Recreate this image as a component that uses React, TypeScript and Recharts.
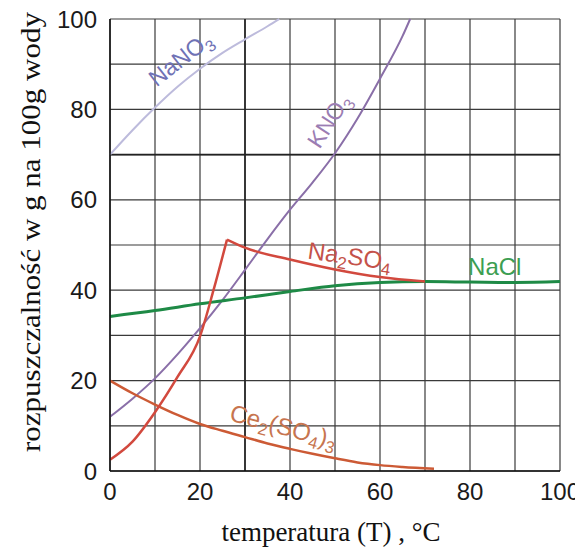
import React from 'react';
import { LineChart, Line, XAxis, YAxis, CartesianGrid, ReferenceLine, ReferenceDot, Label } from 'recharts';

type Pt = { t: number; v: number };

const xTicks = [0, 10, 20, 30, 40, 50, 60, 70, 80, 90, 100];
const yTicks = [0, 10, 20, 30, 40, 50, 60, 70, 80, 90, 100];
const labeledTicks = [0, 20, 40, 60, 80, 100];

const nano3: Pt[] = [
  { t: 0, v: 70 }, { t: 5, v: 75.4 }, { t: 10, v: 80.4 }, { t: 15, v: 85 },
  { t: 20, v: 89 }, { t: 25, v: 92.5 }, { t: 30, v: 95.5 }, { t: 35, v: 98.4 }, { t: 37.6, v: 100 },
];
const kno3: Pt[] = [
  { t: 0, v: 12 }, { t: 5, v: 16 }, { t: 10, v: 20.5 }, { t: 15, v: 25.8 }, { t: 20, v: 31.6 },
  { t: 25, v: 37.8 }, { t: 30, v: 44.5 }, { t: 35, v: 51.3 }, { t: 40, v: 57.8 }, { t: 45, v: 63.8 },
  { t: 50, v: 70.3 }, { t: 55, v: 78 }, { t: 60, v: 86.8 }, { t: 65, v: 96.2 }, { t: 66.7, v: 100 },
];
const na2so4Rise: Pt[] = [
  { t: 0, v: 2.5 }, { t: 5, v: 6.5 }, { t: 10, v: 13 }, { t: 15, v: 20.8 }, { t: 20, v: 29.8 },
  { t: 23, v: 40 }, { t: 26, v: 51.2 },
];
const na2so4Fall: Pt[] = [
  { t: 26, v: 51.2 }, { t: 30, v: 49.4 }, { t: 40, v: 46.8 }, { t: 50, v: 44.6 },
  { t: 60, v: 42.9 }, { t: 70, v: 41.9 },
];
const nacl: Pt[] = [
  { t: 0, v: 34.2 }, { t: 10, v: 35.5 }, { t: 20, v: 37 }, { t: 30, v: 38.3 }, { t: 40, v: 39.7 },
  { t: 50, v: 41 }, { t: 60, v: 41.7 }, { t: 70, v: 41.9 }, { t: 80, v: 41.8 }, { t: 90, v: 41.7 }, { t: 100, v: 41.9 },
];
const ce2so43: Pt[] = [
  { t: 0, v: 20 }, { t: 5, v: 17.2 }, { t: 10, v: 14.7 }, { t: 15, v: 12.4 }, { t: 20, v: 10.4 },
  { t: 25, v: 8.9 }, { t: 30, v: 7.5 }, { t: 35, v: 6.1 }, { t: 40, v: 4.9 }, { t: 45, v: 3.8 },
  { t: 50, v: 2.8 }, { t: 55, v: 1.9 }, { t: 60, v: 1.3 }, { t: 65, v: 0.9 }, { t: 72, v: 0.5 },
];

const xTitle = 'temperatura (T) , °C';
const yTitle = 'rozpuszczalność w g na 100g wody';

type Part = { s: string; sub?: boolean };

const SANS = '"Liberation Sans", Arial, sans-serif';
const SERIF = '"Liberation Serif", "Times New Roman", serif';

function curveLabel(parts: Part[], color: string, angle: number, fontSize: number) {
  return (props: any) => {
    const vb = props.viewBox || {};
    const cx = (vb.x ?? 0) + (vb.width ?? 0) / 2;
    const cy = (vb.y ?? 0) + (vb.height ?? 0) / 2;
    let prevSub = false;
    return (
      <text
        x={cx}
        y={cy}
        transform={`rotate(${angle} ${cx} ${cy})`}
        textAnchor="middle"
        dominantBaseline="central"
        fill={color}
        fontSize={fontSize}
        fontFamily={SANS}
      >
        {parts.map((p, i) => {
          let dy = 0;
          if (p.sub && !prevSub) dy = fontSize * 0.35;
          if (!p.sub && prevSub) dy = -fontSize * 0.35;
          prevSub = !!p.sub;
          return (
            <tspan key={i} dy={dy} fontSize={p.sub ? fontSize * 0.7 : fontSize}>
              {p.s}
            </tspan>
          );
        })}
      </text>
    );
  };
}

const yTitleContent = (props: any) => {
  const vb = props.viewBox || {};
  const cx = vb.x - 10;
  const cy = vb.y + vb.height / 2 - 13;
  return (
    <text x={cx} y={cy} transform={`rotate(-90 ${cx} ${cy})`} textAnchor="middle" dominantBaseline="central"
      fontFamily={SERIF} fontSize={28} fill="#111" textLength={440} lengthAdjust="spacingAndGlyphs">
      {yTitle}
    </text>
  );
};

const xTitleContent = (props: any) => {
  const vb = props.viewBox || {};
  const cx = vb.x + vb.width / 2 - 4;
  const cy = vb.y + 61;
  return (
    <text x={cx} y={cy} textAnchor="middle" dominantBaseline="central" fontFamily={SERIF} fontSize={27} fill="#111">
      {xTitle}
    </text>
  );
};

const fmt = (v: number) => (labeledTicks.includes(v) ? String(v) : '');

export default function App() {
  return (
    <div style={{ marginTop: -8, marginLeft: -8, width: 583, height: 553 }}>
      <LineChart width={583} height={553} margin={{ top: 19, right: 23, bottom: 32, left: 40 }}>
        <CartesianGrid stroke="#3a3a3a" strokeWidth={1.2} />
        <XAxis
          dataKey="t"
          type="number"
          domain={[0, 100]}
          ticks={xTicks}
          tickFormatter={fmt}
          interval={0}
          tickLine={false}
          tickMargin={6}
          height={50}
          axisLine={{ stroke: '#111', strokeWidth: 1.5 }}
          tick={{ fill: '#1a1a1a', fontSize: 24, fontFamily: SANS }}
        >
          <Label content={xTitleContent} />
        </XAxis>
        <YAxis
          type="number"
          domain={[0, 100]}
          ticks={yTicks}
          tickFormatter={fmt}
          interval={0}
          tickLine={false}
          tickMargin={7}
          width={70}
          axisLine={{ stroke: '#111', strokeWidth: 1.5 }}
          tick={{ fill: '#1a1a1a', fontSize: 24, fontFamily: SANS }}
        >
          <Label content={yTitleContent} />
        </YAxis>
        <ReferenceLine x={30} stroke="#222" strokeWidth={1.6} />
        <ReferenceLine y={70} stroke="#222" strokeWidth={1.6} />

        <Line data={nano3} dataKey="v" type="monotone" stroke="#bdbbdc" strokeWidth={2} dot={false} activeDot={false} isAnimationActive={false} />
        <Line data={kno3} dataKey="v" type="monotone" stroke="#8a6fa8" strokeWidth={2} dot={false} activeDot={false} isAnimationActive={false} />
        <Line data={ce2so43} dataKey="v" type="monotone" stroke="#cc5a35" strokeWidth={2.5} dot={false} activeDot={false} isAnimationActive={false} />
        <Line data={nacl} dataKey="v" type="monotone" stroke="#1e8a46" strokeWidth={3} dot={false} activeDot={false} isAnimationActive={false} />
        <Line data={na2so4Rise} dataKey="v" type="monotone" stroke="#d2493e" strokeWidth={2.5} dot={false} activeDot={false} isAnimationActive={false} />
        <Line data={na2so4Fall} dataKey="v" type="monotone" stroke="#d2493e" strokeWidth={2.5} dot={false} activeDot={false} isAnimationActive={false} />

        <ReferenceDot x={15.6} y={91.2} r={0} fill="none" stroke="none" ifOverflow="visible"
          label={curveLabel([{ s: 'NaNO' }, { s: '3', sub: true }], '#6f72b5', -38, 23)} />
        <ReferenceDot x={48.6} y={77.5} r={0} fill="none" stroke="none" ifOverflow="visible"
          label={curveLabel([{ s: 'KNO' }, { s: '3', sub: true }], '#9b7db3', -57, 23)} />
        <ReferenceDot x={53.3} y={47.7} r={0} fill="none" stroke="none" ifOverflow="visible"
          label={curveLabel([{ s: 'Na' }, { s: '2', sub: true }, { s: 'SO' }, { s: '4', sub: true }], '#c4524a', 8, 24)} />
        <ReferenceDot x={85.5} y={45.3} r={0} fill="none" stroke="none" ifOverflow="visible"
          label={curveLabel([{ s: 'NaCl' }], '#3c9e52', 0, 24)} />
        <ReferenceDot x={38.6} y={10} r={0} fill="none" stroke="none" ifOverflow="visible"
          label={curveLabel([{ s: 'Ce' }, { s: '2', sub: true }, { s: '(SO' }, { s: '4', sub: true }, { s: ')' }, { s: '3', sub: true }], '#c7754f', 15, 24)} />
      </LineChart>
    </div>
  );
}
